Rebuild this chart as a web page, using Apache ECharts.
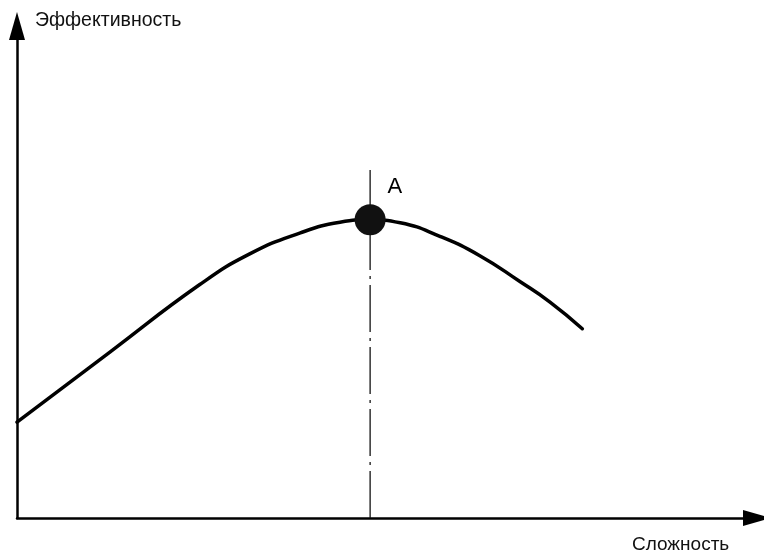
<!DOCTYPE html>
<html>
<head>
<meta charset="utf-8">
<script src="https://cdn.jsdelivr.net/npm/echarts@6/dist/echarts.min.js"></script>
<style>
html,body{margin:0;padding:0;background:#fff;}
#chart{width:764px;height:554px;}
</style>
</head>
<body>
<div id="chart"></div>
<script>
// Data (abstract units)
const complexity = [0, 1.27, 2.49, 3.17, 3.86, 4.40, 4.81, 5.22, 5.76, 6.31, 6.85, 7.26, 7.70];
const efficiency = [1.91, 3.31, 4.65, 5.26, 5.68, 5.89, 5.94, 5.88, 5.61, 5.22, 4.71, 4.30, 3.77];
const peakX = [4.81];
const peakY = [5.94];
const peakLabels = ['A'];
const guideYs = [0, 6.93];
const yAxisTitle = 'Эффективность';
const xAxisTitle = 'Сложность';

const curve = complexity.map((x, i) => [x, efficiency[i]]);
const peak = peakX.map((x, i) => [x, peakY[i]]);
const guide = guideYs.map(y => [peakX[0], y]);

const font = '"Liberation Sans", Arial, sans-serif';
const chart = echarts.init(document.getElementById('chart'));
const axisLine = { show: true, onZero: true, symbol: ['none', 'triangle'], symbolSize: [16, 28],
  lineStyle: { color: '#000', width: 2.5 } };
const hidden = { axisTick: { show: false }, axisLabel: { show: false }, splitLine: { show: false } };
chart.setOption({
  backgroundColor: '#fff',
  animation: false,
  grid: { left: 17, right: 7, top: 26, bottom: 36 },
  xAxis: Object.assign({ type: 'value', min: 0, max: 10.08, axisLine }, hidden),
  yAxis: Object.assign({ type: 'value', min: 0, max: 9.80, axisLine }, hidden),
  graphic: [
    { type: 'text', left: 35, top: 11, style: { text: yAxisTitle, font: '19.5px ' + font, fill: '#111' } },
    { type: 'text', left: 632, top: 535, style: { text: xAxisTitle, font: '19px ' + font, fill: '#111' } }
  ],
  series: [
    { type: 'line', data: guide, symbol: 'none', silent: true,
      lineStyle: { color: '#111', width: 1.3, type: [47, 6, 3, 6] }, z: 2 },
    { type: 'line', data: curve, smooth: 0.5, symbol: 'none',
      lineStyle: { color: '#000', width: 3.5, cap: 'round' }, z: 3 },
    { type: 'scatter', data: peak, symbolSize: 31,
      itemStyle: { color: '#111', opacity: 1 }, z: 4,
      label: { show: true, formatter: (p) => peakLabels[p.dataIndex], position: 'right',
        offset: [-3, -33], fontSize: 22, fontFamily: font, color: '#000' } }
  ]
});
</script>
</body>
</html>
